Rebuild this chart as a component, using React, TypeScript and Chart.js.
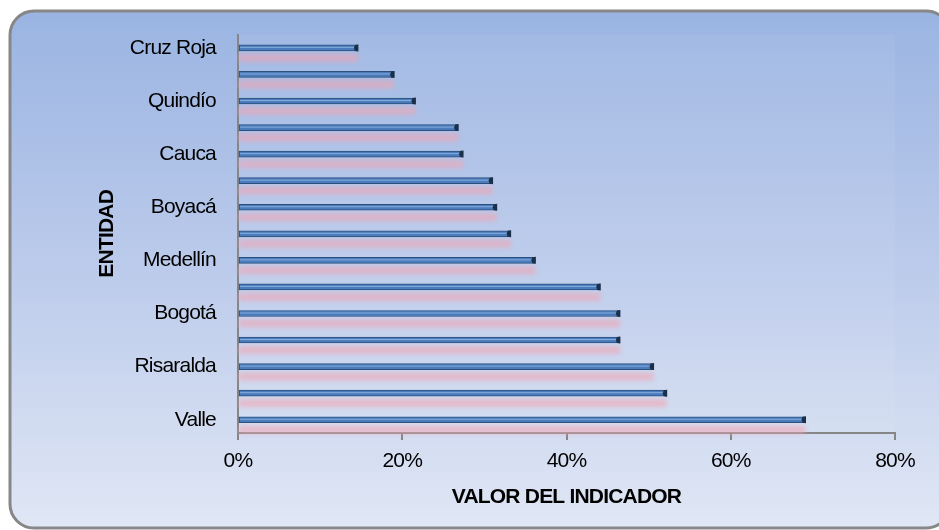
import { useEffect, useRef } from "react";
import { Chart, registerables } from "chart.js";

Chart.register(...registerables);

const entities = [
  "Cruz Roja", "Caldas", "Quindío", "Nariño", "Cauca", "Tolima", "Boyacá", "Huila",
  "Medellín", "Cundinamarca", "Bogotá", "Santander", "Risaralda", "Antioquia", "Valle",
];
const values = [
  0.146, 0.19, 0.216, 0.268, 0.274, 0.31, 0.315, 0.332,
  0.362, 0.441, 0.465, 0.465, 0.506, 0.522, 0.691,
];
const xMin = 0;
const xMax = 0.8;
const xStep = 0.2;
const xTitle = "VALOR DEL INDICADOR";
const yTitle = "ENTIDAD";

const FONT = '"Liberation Sans Narrow", "Liberation Sans", Arial, sans-serif';
const FS = 21;

const condensePlugin = {
  id: "condenseText",
  beforeUpdate(chart: any) {
    (chart.ctx as any).letterSpacing = "-0.8px";
  },
  beforeDraw(chart: any) {
    (chart.ctx as any).letterSpacing = "-0.8px";
  },
};

const backgroundPlugin = {
  id: "bgPanel",
  beforeDraw(chart: any) {
    const ctx = chart.ctx as CanvasRenderingContext2D;
    const x0 = 10, y0 = 11, x1 = 950, y1 = 528, r = 24;
    ctx.save();
    ctx.beginPath();
    ctx.moveTo(x0 + r, y0);
    ctx.lineTo(x1 - r, y0);
    ctx.arcTo(x1, y0, x1, y0 + r, r);
    ctx.lineTo(x1, y1 - r);
    ctx.arcTo(x1, y1, x1 - r, y1, r);
    ctx.lineTo(x0 + r, y1);
    ctx.arcTo(x0, y1, x0, y1 - r, r);
    ctx.lineTo(x0, y0 + r);
    ctx.arcTo(x0, y0, x0 + r, y0, r);
    ctx.closePath();
    const g = ctx.createLinearGradient(0, y0, 0, y1);
    g.addColorStop(0, "#9ab4e2");
    g.addColorStop(0.5, "#bccbeb");
    g.addColorStop(1, "#e0e7f5");
    ctx.fillStyle = g;
    ctx.fill();
    ctx.lineWidth = 3;
    ctx.strokeStyle = "#878787";
    ctx.stroke();
    const a = chart.chartArea;
    ctx.fillStyle = "rgba(255,255,255,0.06)";
    ctx.fillRect(a.left, a.top, a.right - a.left, a.bottom - a.top);
    ctx.restore();
  },
};

const reflectionPlugin = {
  id: "barReflection",
  beforeDatasetsDraw(chart: any) {
    const ctx = chart.ctx as CanvasRenderingContext2D;
    const meta = chart.getDatasetMeta(0);
    ctx.save();
    ctx.filter = "blur(2px)";
    ctx.fillStyle = "rgba(240,165,180,0.6)";
    meta.data.forEach((el: any) => {
      const p = el.getProps(["x", "y", "base", "height"], true);
      ctx.fillRect(p.base, p.y + p.height / 2 + 3, p.x - p.base, 8);
    });
    ctx.restore();
  },
  afterDatasetsDraw(chart: any) {
    const ctx = chart.ctx as CanvasRenderingContext2D;
    const meta = chart.getDatasetMeta(0);
    ctx.save();
    meta.data.forEach((el: any) => {
      const p = el.getProps(["x", "y", "base", "height"], true);
      const h = p.height / 2;
      ctx.fillStyle = "rgba(150,185,230,0.8)";
      ctx.fillRect(p.base + 1, p.y - 1, p.x - p.base - 3, 1);
      ctx.fillStyle = "#1b2f4a";
      ctx.beginPath();
      ctx.moveTo(p.x + 0.5, p.y - h - 0.5);
      ctx.lineTo(p.x + 0.5, p.y + h + 0.5);
      ctx.lineTo(p.x - 3, p.y + h);
      ctx.lineTo(p.x - 4, p.y);
      ctx.lineTo(p.x - 3, p.y - h);
      ctx.closePath();
      ctx.fill();
    });
    ctx.restore();
  },
};

export default function App() {
  const ref = useRef<HTMLCanvasElement | null>(null);

  useEffect(() => {
    if (!ref.current) return;
    const chart = new Chart(ref.current, {
      type: "bar",
      data: {
        labels: entities,
        datasets: [
          {
            data: values,
            backgroundColor: "#4a7cbc",
            borderColor: "#2c4f7d",
            borderWidth: 1,
            borderSkipped: false,
            barThickness: 6,
          },
        ],
      },
      options: {
        indexAxis: "y",
        responsive: false,
        animation: false,
        devicePixelRatio: 1,
        layout: { padding: { left: 90, top: 34, right: 44, bottom: 17 } },
        plugins: {
          legend: { display: false },
          tooltip: { enabled: false },
          title: { display: false },
        },
        scales: {
          x: {
            type: "linear",
            position: "bottom",
            min: xMin,
            max: xMax,
            afterFit(scale: any) {
              scale.height = 80;
            },
            ticks: {
              stepSize: xStep,
              padding: 9,
              color: "#000",
              font: { family: FONT, size: FS },
              callback: (v: any) => Math.round(Number(v) * 100) + "%",
            },
            grid: {
              drawOnChartArea: false,
              drawTicks: true,
              tickLength: 7,
              color: "#868686",
              lineWidth: 2,
            },
            border: { display: true, color: "#868686", width: 2 },
            title: {
              display: true,
              text: xTitle,
              color: "#000",
              font: { family: FONT, size: FS, weight: "bold" },
              padding: { top: 0, bottom: 3 },
            },
          },
          y: {
            type: "category",
            afterFit(scale: any) {
              scale.width = 148;
            },
            ticks: {
              autoSkip: false,
              padding: 22,
              color: "#000",
              font: { family: FONT, size: FS },
              callback: function (this: any, _v: any, i: number) {
                return i % 2 === 0 ? entities[i] : "";
              },
            },
            grid: { drawOnChartArea: false, drawTicks: false },
            border: { display: true, color: "#868686", width: 2 },
            title: {
              display: true,
              text: yTitle,
              color: "#000",
              font: { family: FONT, size: FS, weight: "bold" },
              padding: { top: 5, bottom: 0 },
            },
          },
        },
      },
      plugins: [condensePlugin, backgroundPlugin, reflectionPlugin],
    } as any);
    return () => chart.destroy();
  }, []);

  return (
    <div style={{ position: "absolute", left: 0, top: 0, width: 939, height: 530, overflow: "hidden" }}>
      <canvas ref={ref} width={939} height={530} style={{ display: "block" }} />
    </div>
  );
}
